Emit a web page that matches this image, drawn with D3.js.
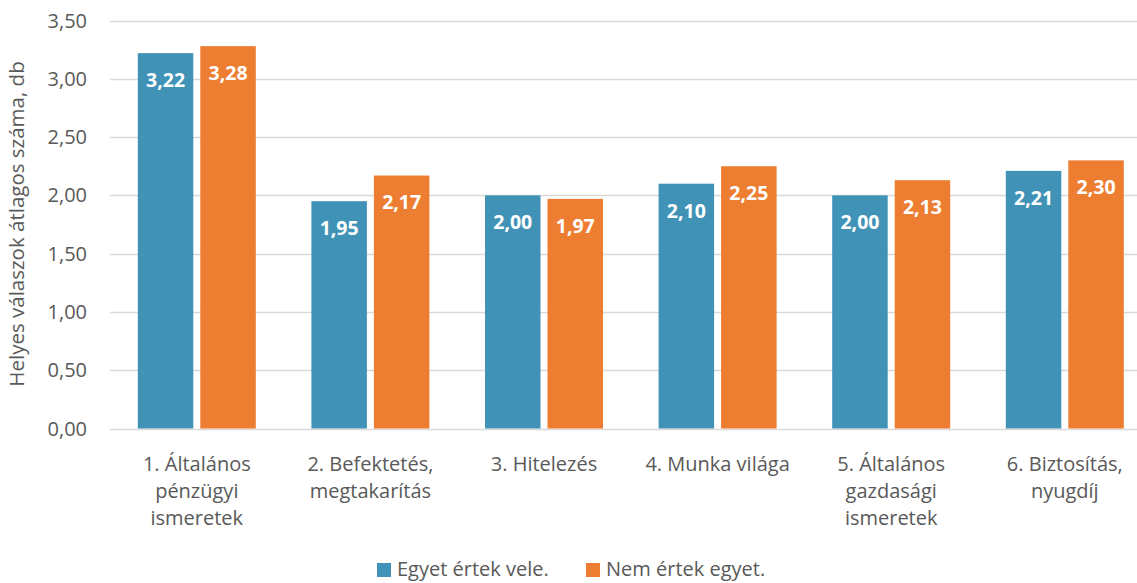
<!DOCTYPE html>
<html>
<head>
<meta charset="utf-8">
<script src="https://cdn.jsdelivr.net/npm/d3@7"></script>
<style>
  body { margin: 0; background: #fff; }
  svg text { font-family: "Open Sans", sans-serif; }
</style>
</head>
<body>
<div id="chart"></div>
<script>
// data
const categories = [
  ["1. Általános", "pénzügyi", "ismeretek"],
  ["2. Befektetés,", "megtakarítás"],
  ["3. Hitelezés"],
  ["4. Munka világa"],
  ["5. Általános", "gazdasági", "ismeretek"],
  ["6. Biztosítás,", "nyugdíj"]
];
const seriesNames = ["Egyet értek vele.", "Nem értek egyet."];
const agree = [3.22, 1.95, 2.00, 2.10, 2.00, 2.21];
const disagree = [3.28, 2.17, 1.97, 2.25, 2.13, 2.30];
const yTicks = [0, 0.5, 1, 1.5, 2, 2.5, 3, 3.5];
const colors = ["#4093B7", "#ED7D31"];

const width = 1137, height = 583;
const fmt = v => d3.format(".2f")(v).replace(".", ",");

const svg = d3.select("#chart").append("svg")
  .attr("width", width)
  .attr("height", height);

const x = d3.scaleBand()
  .domain(d3.range(categories.length))
  .range([110, 1151.6])
  .paddingInner(0)
  .paddingOuter(0);

const y = d3.scaleLinear()
  .domain([0, 3.5])
  .range([428.5, 20.5]);

const barW = 55.5, gap = 7;

// gridlines
svg.append("g")
  .selectAll("line")
  .data(yTicks)
  .enter().append("line")
    .attr("x1", 110)
    .attr("x2", width)
    .attr("y1", d => Math.round(y(d)) + 0.5)
    .attr("y2", d => Math.round(y(d)) + 0.5)
    .attr("stroke", "#d9d9d9")
    .attr("stroke-width", 1.3);

// y tick labels
svg.append("g")
  .selectAll("text")
  .data(yTicks)
  .enter().append("text")
    .attr("x", 87)
    .attr("y", d => y(d))
    .attr("dy", "0.35em")
    .attr("text-anchor", "end")
    .style("font-size", "20px")
    .style("fill", "#595959")
    .text(d => fmt(d));

// y axis title
svg.append("text")
  .attr("transform", "translate(24,224) rotate(-90)")
  .attr("text-anchor", "middle")
  .style("font-size", "20.5px")
  .style("fill", "#595959")
  .text("Helyes válaszok átlagos száma, db");

// bars
const series = [agree, disagree];
series.forEach(function(vals, s) {
  const g = svg.append("g");
  const xPos = i => x(i) + x.bandwidth() / 2 + (s === 0 ? -gap / 2 - barW : gap / 2);
  g.selectAll("rect")
    .data(vals)
    .enter().append("rect")
      .attr("x", (d, i) => xPos(i))
      .attr("y", d => y(d))
      .attr("width", barW)
      .attr("height", d => y(0) - y(d))
      .attr("fill", colors[s]);
  g.selectAll("text")
    .data(vals)
    .enter().append("text")
      .attr("x", (d, i) => xPos(i) + barW / 2)
      .attr("y", d => y(d) + 27)
      .attr("dy", "0.35em")
      .attr("text-anchor", "middle")
      .style("font-size", "19.5px")
      .style("font-weight", "bold")
      .style("fill", "#fff")
      .text(d => fmt(d));
});

// category labels
const xl = svg.append("g")
  .selectAll("text")
  .data(categories)
  .enter().append("text")
    .attr("text-anchor", "middle")
    .style("font-size", "20px")
    .style("fill", "#595959");
xl.each(function(lines, i) {
  const t = d3.select(this);
  lines.forEach(function(l, k) {
    t.append("tspan")
      .attr("x", x(i) + x.bandwidth() / 2)
      .attr("y", 471 + k * 27)
      .text(l);
  });
});

// legend
const legX = [377, 586];
seriesNames.forEach(function(n, s) {
  svg.append("rect")
    .attr("x", legX[s])
    .attr("y", 563)
    .attr("width", 14)
    .attr("height", 14)
    .attr("fill", colors[s]);
  svg.append("text")
    .attr("x", legX[s] + 20)
    .attr("y", 569)
    .attr("dy", "0.35em")
    .style("font-size", "20px")
    .style("fill", "#595959")
    .text(n);
});
</script>
</body>
</html>
